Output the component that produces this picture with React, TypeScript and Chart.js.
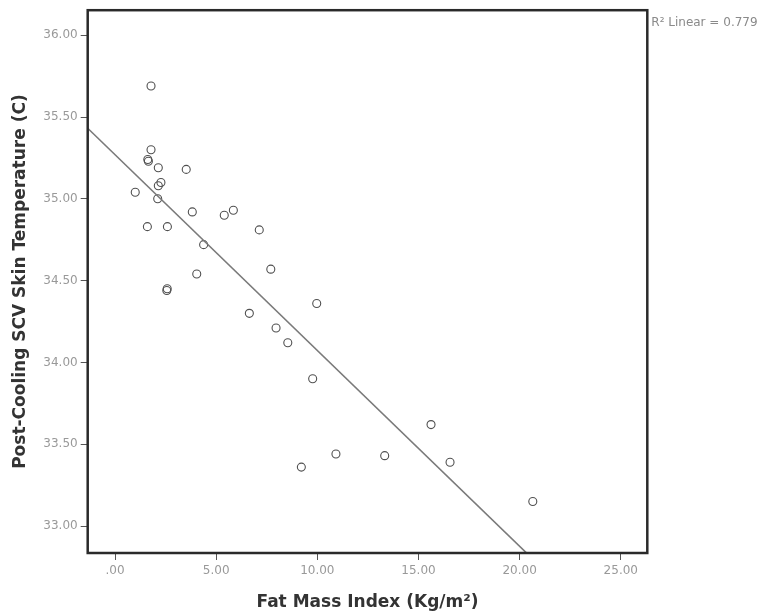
import React, { useEffect, useRef } from "react";
import { Chart, registerables } from "chart.js";

Chart.register(...registerables);

// Fat Mass Index (Kg/m²)
const fmi = [
  1.78, 1.78, 1.65, 1.62, 2.14, 3.52, 2.27, 2.14, 1.0, 2.11,
  3.82, 5.4, 5.85, 1.6, 2.59, 7.13, 4.38, 7.7, 4.04, 2.56,
  2.58, 9.97, 6.64, 7.96, 8.54, 9.77, 15.62, 10.92, 13.33, 16.56,
  9.21, 20.65,
];
// Post-Cooling SCV Skin Temperature (C)
const temp = [
  35.69, 35.3, 35.23, 35.24, 35.19, 35.18, 35.1, 35.08, 35.04, 35.0,
  34.92, 34.9, 34.93, 34.83, 34.83, 34.81, 34.72, 34.57, 34.54, 34.44,
  34.45, 34.36, 34.3, 34.21, 34.12, 33.9, 33.62, 33.44, 33.43, 33.39,
  33.36, 33.15,
];

const fitIntercept = 35.27;
const fitSlope = -0.1197;
const fitRange = [-1.35, 22];
const rSquaredLabel = "R\u00B2 Linear = 0.779";

const xTicks = [0, 5, 10, 15, 20, 25];
const yTicks = [33, 33.5, 34, 34.5, 35, 35.5, 36];
const xLimits = [-1.35, 26.31];
const yLimits = [32.835, 36.153];

const framePlugin = {
  id: "frame",
  afterDraw(chart: any) {
    const { ctx, chartArea } = chart;
    ctx.save();
    ctx.strokeStyle = "#2a2a2a";
    ctx.lineWidth = 2.5;
    ctx.strokeRect(
      chartArea.left,
      chartArea.top,
      chartArea.right - chartArea.left,
      chartArea.bottom - chartArea.top
    );
    ctx.fillStyle = "#8a8a8a";
    ctx.font = "12px 'DejaVu Sans'";
    ctx.textBaseline = "middle";
    ctx.textAlign = "left";
    ctx.fillText(rSquaredLabel, chartArea.right + 4, 23);
    ctx.restore();
  },
};

export default function App() {
  const ref = useRef<HTMLCanvasElement>(null);

  useEffect(() => {
    document.body.style.margin = "0";
    const points = fmi.map((x, i) => ({ x, y: temp[i] }));
    const fitLine = fitRange.map((x) => ({ x, y: fitIntercept + fitSlope * x }));
    const chart = new Chart(ref.current!, {
      type: "scatter",
      data: {
        datasets: [
          {
            type: "line",
            data: fitLine,
            borderColor: "#7a7a7a",
            borderWidth: 1.6,
            pointRadius: 0,
            fill: false,
          } as any,
          {
            data: points,
            pointStyle: "circle",
            pointRadius: 4,
            backgroundColor: "rgba(0,0,0,0)",
            borderColor: "#505050",
            borderWidth: 1.1,
          },
        ],
      },
      options: {
        responsive: false,
        animation: false,
        layout: { padding: { left: 0, right: 122.7, top: 10, bottom: 0 } },
        plugins: { legend: { display: false }, tooltip: { enabled: false } },
        scales: {
          x: {
            type: "linear",
            min: xLimits[0],
            max: xLimits[1],
            afterBuildTicks: (s: any) => {
              s.ticks = xTicks.map((v) => ({ value: v }));
            },
            afterFit: (s: any) => {
              s.height = 60;
            },
            border: { display: false },
            grid: {
              drawOnChartArea: false,
              drawTicks: true,
              tickLength: 7,
              color: "#555",
            },
            ticks: {
              padding: 4,
              color: "#999",
              font: { family: "'DejaVu Sans'", size: 12 },
              maxRotation: 0,
              callback: (v: any) => (v === 0 ? ".00" : Number(v).toFixed(2)),
            },
            title: {
              display: true,
              text: "Fat Mass Index (Kg/m\u00B2)",
              color: "#333",
              font: { family: "'DejaVu Sans'", size: 17, weight: "bold" },
              padding: { top: 3, bottom: 0 },
            },
          },
          y: {
            type: "linear",
            min: yLimits[0],
            max: yLimits[1],
            afterBuildTicks: (s: any) => {
              s.ticks = yTicks.map((v) => ({ value: v }));
            },
            afterFit: (s: any) => {
              s.width = 87.7;
            },
            border: { display: false },
            grid: {
              drawOnChartArea: false,
              drawTicks: true,
              tickLength: 7,
              color: "#555",
            },
            ticks: {
              padding: 3,
              color: "#999",
              font: { family: "'DejaVu Sans'", size: 12 },
              callback: (v: any) => Number(v).toFixed(2),
            },
            title: {
              display: true,
              text: "Post-Cooling SCV Skin Temperature (C)",
              color: "#333",
              font: { family: "'DejaVu Sans'", size: 17, weight: "bold" },
              padding: { top: 10, bottom: 0 },
            },
          },
        },
      },
      plugins: [framePlugin],
    });
    return () => chart.destroy();
  }, []);

  return (
    <div style={{ width: 770, height: 613 }}>
      <canvas ref={ref} width={770} height={613} />
    </div>
  );
}
